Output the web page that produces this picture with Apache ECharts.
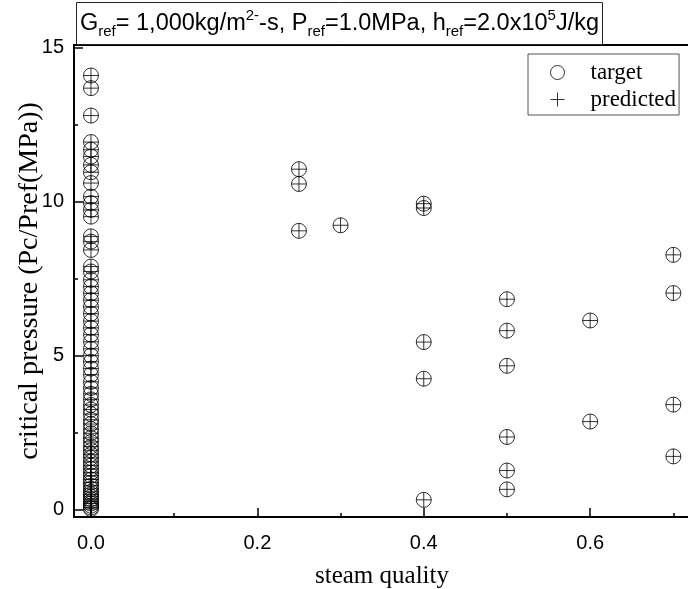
<!DOCTYPE html>
<html>
<head>
<meta charset="utf-8">
<script src="https://cdn.jsdelivr.net/npm/echarts@6/dist/echarts.min.js"></script>
<style>
html,body{margin:0;padding:0;background:#fff;}
#c{width:688px;height:589px;}
</style>
</head>
<body>
<div id="c"></div>
<script>
// ---- data ----
const quality = [
  0,0,0,0,0,0,0,0,0,0,0,0,0,0,0,0,0,0,0,0,
  0,0,0,0,0,0,0,0,0,0,0,0,0,0,0,0,0,
  0,0,0,0,0,0,0,0,0,0,0,0,0,0,0,0,0,0,0,0,0,0,0,0,0,0,0,0,0,0,0,
  0.25,0.25,0.25,0.3,
  0.4,0.4,0.4,0.4,0.4,
  0.5,0.5,0.5,0.5,0.5,0.5,
  0.6,0.6,
  0.7,0.7,0.7,0.7
];
const targetPc = [
  14.09,13.68,12.79,11.93,11.68,11.46,11.19,10.95,10.60,10.16,9.95,9.73,9.51,8.87,8.70,8.43,7.89,7.73,7.46,7.24,
  7.02,6.80,6.58,6.36,6.12,5.90,5.68,5.45,5.22,5.00,4.80,4.58,4.38,4.15,3.95,3.76,3.58,
  3.40,3.25,3.10,2.92,2.78,2.62,2.48,2.33,2.20,2.05,1.93,1.80,1.68,1.55,1.43,1.32,1.20,1.10,0.98,0.88,0.78,0.68,0.58,0.50,0.42,0.34,0.27,0.20,0.13,0.07,0.02,
  11.05,10.57,9.05,9.23,
  9.93,9.79,5.44,4.25,0.32,
  6.83,5.81,4.67,2.36,1.27,0.66,
  6.14,2.86,
  8.27,7.03,3.41,1.73
];
const predictedPc = [
  14.09,13.68,12.79,11.93,11.68,11.46,11.19,10.95,10.60,10.16,9.95,9.73,9.51,8.87,8.70,8.43,7.89,7.73,7.46,7.24,
  7.02,6.80,6.58,6.36,6.12,5.90,5.68,5.45,5.22,5.00,4.80,4.58,4.38,4.15,3.95,3.76,3.58,
  3.40,3.25,3.10,2.92,2.78,2.62,2.48,2.33,2.20,2.05,1.93,1.80,1.68,1.55,1.43,1.32,1.20,1.10,0.98,0.88,0.78,0.68,0.58,0.50,0.42,0.34,0.27,0.20,0.13,0.07,0.02,
  11.05,10.57,9.05,9.23,
  9.93,9.79,5.44,4.25,0.32,
  6.83,5.81,4.67,2.36,1.27,0.66,
  6.14,2.86,
  8.27,7.03,3.41,1.73
];
const xMajorTicks = [0, 0.2, 0.4, 0.6];
const xMinorTicks = [0.1, 0.3, 0.5, 0.7];
const yMajorTicks = [0, 5, 10, 15];
const yMinorTicks = [2.5, 7.5, 12.5];
const seriesNames = ['target', 'predicted'];
const xTitle = 'steam quality';
const yTitle = 'critical pressure (Pc/Pref(MPa))';

// ---- build ----
const targetData = quality.map((q, i) => [q, targetPc[i]]);
const predictedData = quality.map((q, i) => [q, predictedPc[i]]);
const plusPath = 'path://M7,0L7,14M0,7L14,7';
const X_MIN = -0.0204, X_MAX = 0.72, Y_MIN = -0.237, Y_MAX = 15.08;
const sans = 'Liberation Sans, Arial, sans-serif';
const serif = 'Liberation Serif, Times New Roman, serif';

const chart = echarts.init(document.getElementById('c'), null, {renderer: 'canvas'});
const sub = {fontSize: 15, fontFamily: sans, fontWeight: 'normal', color: '#000', verticalAlign: 'bottom'};
const sup = {fontSize: 15, fontFamily: sans, fontWeight: 'normal', color: '#000', verticalAlign: 'top'};
chart.setOption({
  animation: false,
  backgroundColor: '#fff',
  title: {
    left: 76, top: 2,
    padding: [6, 4, 6, 4],
    borderColor: '#222', borderWidth: 1,
    text: '{m|G}{s|ref}{m|= 1,000kg/m}{p|2-}{m|-s, P}{s|ref}{m|=1.0MPa, h}{s|ref}{m|=2.0x10}{p|5}{m|J/kg}',
    textStyle: {
      fontWeight: 'normal',
      rich: {
        m: {fontSize: 23.5, fontFamily: sans, fontWeight: 'normal', color: '#000', lineHeight: 31},
        s: sub, p: sup
      }
    }
  },
  legend: {
    data: [{name: seriesNames[0], icon: 'circle'}, {name: seriesNames[1], icon: plusPath}],
    orient: 'vertical',
    left: 528, top: 54,
    padding: [7, 3, 4, 22],
    itemWidth: 56, itemHeight: 14, itemGap: 4,
    borderColor: '#555', borderWidth: 1,
    itemStyle: {color: 'transparent', borderColor: '#000', borderWidth: 1},
    textStyle: {fontFamily: serif, fontSize: 23, color: '#000'}
  },
  grid: {
    left: 74, top: 45, right: -2, bottom: 72,
    outerBoundsMode: 'none',
    show: true, borderColor: '#000', borderWidth: 2, containLabel: false
  },
  xAxis: [{
    type: 'value', min: X_MIN, max: X_MAX,
    name: xTitle, nameLocation: 'middle', nameGap: 47, nameMoveOverlap: false,
    nameTextStyle: {fontFamily: serif, fontSize: 25, color: '#000'},
    axisLine: {show: true, onZero: false, lineStyle: {color: '#000', width: 2}},
    axisTick: {show: true, inside: true, length: 9, customValues: xMajorTicks, lineStyle: {color: '#000', width: 1.5}},
    axisLabel: {show: true, customValues: xMajorTicks, margin: 16, fontFamily: sans, fontSize: 20, color: '#000',
      formatter: v => v.toFixed(1)},
    splitLine: {show: false}
  }, {
    type: 'value', min: X_MIN, max: X_MAX, position: 'bottom',
    axisLine: {show: false, onZero: false},
    axisTick: {show: true, inside: true, length: 4, customValues: xMinorTicks, lineStyle: {color: '#000', width: 1.5}},
    axisLabel: {show: false},
    splitLine: {show: false}
  }],
  yAxis: [{
    type: 'value', min: Y_MIN, max: Y_MAX,
    name: yTitle, nameLocation: 'middle', nameGap: 30, nameMoveOverlap: false,
    nameTextStyle: {fontFamily: serif, fontSize: 28, color: '#000'},
    axisLine: {show: true, onZero: false, lineStyle: {color: '#000', width: 2}},
    axisTick: {show: true, inside: true, length: 9, customValues: yMajorTicks, lineStyle: {color: '#000', width: 1.5}},
    axisLabel: {show: true, customValues: yMajorTicks, margin: 10, fontFamily: sans, fontSize: 20, color: '#000'},
    splitLine: {show: false}
  }, {
    type: 'value', min: Y_MIN, max: Y_MAX, position: 'left',
    axisLine: {show: false, onZero: false},
    axisTick: {show: true, inside: true, length: 4, customValues: yMinorTicks, lineStyle: {color: '#000', width: 1.5}},
    axisLabel: {show: false},
    splitLine: {show: false}
  }],
  series: [{
    name: seriesNames[0], type: 'scatter', data: targetData,
    symbol: 'circle', symbolSize: 15,
    itemStyle: {color: 'transparent', borderColor: '#000', borderWidth: 1},
    emphasis: {disabled: true}
  }, {
    name: seriesNames[1], type: 'scatter', data: predictedData,
    symbol: plusPath, symbolSize: 15,
    itemStyle: {color: 'transparent', borderColor: '#000', borderWidth: 1},
    emphasis: {disabled: true}
  }]
});
</script>
</body>
</html>
